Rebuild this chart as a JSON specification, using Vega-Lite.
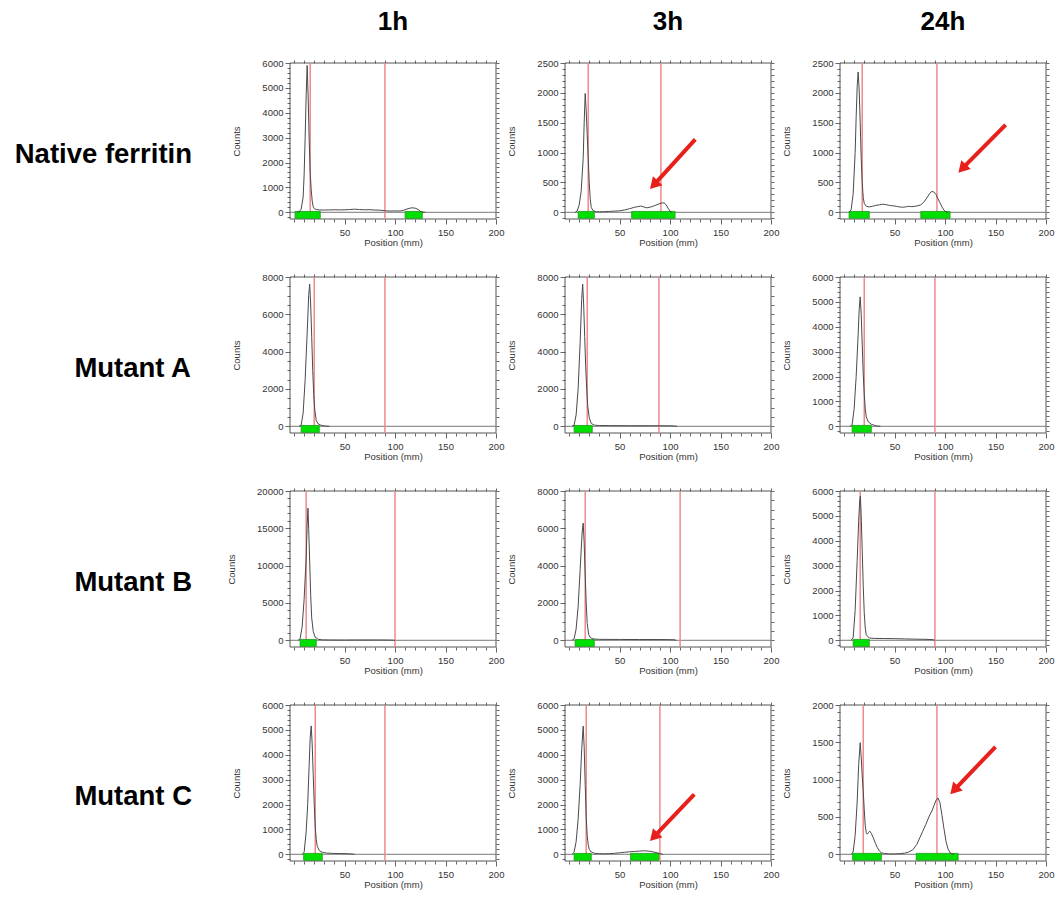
{
  "$schema": "https://vega.github.io/schema/vega-lite/v6.json",
  "background": "white",
  "padding": {"left": 14, "top": 9, "right": 5, "bottom": 5},
  "data": {"values": [
    {"sample":"Native ferritin","time":"1h","kind":"frame","x":-4,"x2":200,"y":-270,"y2":6000},
    {"sample":"Native ferritin","time":"1h","kind":"front","x":16},
    {"sample":"Native ferritin","time":"1h","kind":"front","x":90},
    {"sample":"Native ferritin","time":"1h","kind":"roi","x":1,"x2":26,"y":-245,"y2":35},
    {"sample":"Native ferritin","time":"1h","kind":"roi","x":110,"x2":127,"y":-245,"y2":35},
    {"sample":"Native ferritin","time":"1h","kind":"trace","x":3,"y":0},
    {"sample":"Native ferritin","time":"1h","kind":"trace","x":5,"y":20},
    {"sample":"Native ferritin","time":"1h","kind":"trace","x":7,"y":120},
    {"sample":"Native ferritin","time":"1h","kind":"trace","x":9,"y":600},
    {"sample":"Native ferritin","time":"1h","kind":"trace","x":10,"y":1500},
    {"sample":"Native ferritin","time":"1h","kind":"trace","x":11,"y":3000},
    {"sample":"Native ferritin","time":"1h","kind":"trace","x":12,"y":4700},
    {"sample":"Native ferritin","time":"1h","kind":"trace","x":13,"y":5900},
    {"sample":"Native ferritin","time":"1h","kind":"trace","x":14,"y":4600},
    {"sample":"Native ferritin","time":"1h","kind":"trace","x":15,"y":2900},
    {"sample":"Native ferritin","time":"1h","kind":"trace","x":16,"y":1600},
    {"sample":"Native ferritin","time":"1h","kind":"trace","x":17,"y":900},
    {"sample":"Native ferritin","time":"1h","kind":"trace","x":18,"y":450},
    {"sample":"Native ferritin","time":"1h","kind":"trace","x":19,"y":220},
    {"sample":"Native ferritin","time":"1h","kind":"trace","x":20,"y":150},
    {"sample":"Native ferritin","time":"1h","kind":"trace","x":22,"y":110},
    {"sample":"Native ferritin","time":"1h","kind":"trace","x":25,"y":95},
    {"sample":"Native ferritin","time":"1h","kind":"trace","x":30,"y":90},
    {"sample":"Native ferritin","time":"1h","kind":"trace","x":35,"y":95},
    {"sample":"Native ferritin","time":"1h","kind":"trace","x":40,"y":100},
    {"sample":"Native ferritin","time":"1h","kind":"trace","x":45,"y":95},
    {"sample":"Native ferritin","time":"1h","kind":"trace","x":50,"y":100},
    {"sample":"Native ferritin","time":"1h","kind":"trace","x":55,"y":110},
    {"sample":"Native ferritin","time":"1h","kind":"trace","x":60,"y":125},
    {"sample":"Native ferritin","time":"1h","kind":"trace","x":65,"y":110},
    {"sample":"Native ferritin","time":"1h","kind":"trace","x":70,"y":100},
    {"sample":"Native ferritin","time":"1h","kind":"trace","x":75,"y":105},
    {"sample":"Native ferritin","time":"1h","kind":"trace","x":80,"y":90},
    {"sample":"Native ferritin","time":"1h","kind":"trace","x":85,"y":85},
    {"sample":"Native ferritin","time":"1h","kind":"trace","x":90,"y":60},
    {"sample":"Native ferritin","time":"1h","kind":"trace","x":95,"y":50},
    {"sample":"Native ferritin","time":"1h","kind":"trace","x":100,"y":55},
    {"sample":"Native ferritin","time":"1h","kind":"trace","x":105,"y":50},
    {"sample":"Native ferritin","time":"1h","kind":"trace","x":108,"y":70},
    {"sample":"Native ferritin","time":"1h","kind":"trace","x":111,"y":120},
    {"sample":"Native ferritin","time":"1h","kind":"trace","x":114,"y":160},
    {"sample":"Native ferritin","time":"1h","kind":"trace","x":117,"y":180},
    {"sample":"Native ferritin","time":"1h","kind":"trace","x":120,"y":165},
    {"sample":"Native ferritin","time":"1h","kind":"trace","x":123,"y":110},
    {"sample":"Native ferritin","time":"1h","kind":"trace","x":125,"y":40},
    {"sample":"Native ferritin","time":"1h","kind":"trace","x":127,"y":5},
    {"sample":"Native ferritin","time":"1h","kind":"trace","x":130,"y":0},

    {"sample":"Native ferritin","time":"3h","kind":"frame","x":-4,"x2":200,"y":-112,"y2":2500},
    {"sample":"Native ferritin","time":"3h","kind":"front","x":19},
    {"sample":"Native ferritin","time":"3h","kind":"front","x":91},
    {"sample":"Native ferritin","time":"3h","kind":"roi","x":9,"x2":25,"y":-100,"y2":15},
    {"sample":"Native ferritin","time":"3h","kind":"roi","x":62,"x2":105,"y":-100,"y2":15},
    {"sample":"Native ferritin","time":"3h","kind":"arrow","x":125,"y":1220,"x2":84,"y2":460},
    {"sample":"Native ferritin","time":"3h","kind":"trace","x":6,"y":0},
    {"sample":"Native ferritin","time":"3h","kind":"trace","x":8,"y":20},
    {"sample":"Native ferritin","time":"3h","kind":"trace","x":10,"y":120},
    {"sample":"Native ferritin","time":"3h","kind":"trace","x":12,"y":350},
    {"sample":"Native ferritin","time":"3h","kind":"trace","x":14,"y":900},
    {"sample":"Native ferritin","time":"3h","kind":"trace","x":15,"y":1500},
    {"sample":"Native ferritin","time":"3h","kind":"trace","x":16,"y":1990},
    {"sample":"Native ferritin","time":"3h","kind":"trace","x":17,"y":1700},
    {"sample":"Native ferritin","time":"3h","kind":"trace","x":18,"y":1300},
    {"sample":"Native ferritin","time":"3h","kind":"trace","x":19,"y":900},
    {"sample":"Native ferritin","time":"3h","kind":"trace","x":20,"y":500},
    {"sample":"Native ferritin","time":"3h","kind":"trace","x":21,"y":220},
    {"sample":"Native ferritin","time":"3h","kind":"trace","x":22,"y":80},
    {"sample":"Native ferritin","time":"3h","kind":"trace","x":24,"y":25},
    {"sample":"Native ferritin","time":"3h","kind":"trace","x":27,"y":10},
    {"sample":"Native ferritin","time":"3h","kind":"trace","x":30,"y":8},
    {"sample":"Native ferritin","time":"3h","kind":"trace","x":35,"y":10},
    {"sample":"Native ferritin","time":"3h","kind":"trace","x":40,"y":15},
    {"sample":"Native ferritin","time":"3h","kind":"trace","x":45,"y":20},
    {"sample":"Native ferritin","time":"3h","kind":"trace","x":50,"y":25},
    {"sample":"Native ferritin","time":"3h","kind":"trace","x":55,"y":40},
    {"sample":"Native ferritin","time":"3h","kind":"trace","x":60,"y":60},
    {"sample":"Native ferritin","time":"3h","kind":"trace","x":65,"y":85},
    {"sample":"Native ferritin","time":"3h","kind":"trace","x":68,"y":95},
    {"sample":"Native ferritin","time":"3h","kind":"trace","x":71,"y":105},
    {"sample":"Native ferritin","time":"3h","kind":"trace","x":74,"y":90},
    {"sample":"Native ferritin","time":"3h","kind":"trace","x":77,"y":75},
    {"sample":"Native ferritin","time":"3h","kind":"trace","x":80,"y":85},
    {"sample":"Native ferritin","time":"3h","kind":"trace","x":83,"y":100},
    {"sample":"Native ferritin","time":"3h","kind":"trace","x":86,"y":120},
    {"sample":"Native ferritin","time":"3h","kind":"trace","x":89,"y":140},
    {"sample":"Native ferritin","time":"3h","kind":"trace","x":92,"y":155},
    {"sample":"Native ferritin","time":"3h","kind":"trace","x":94,"y":160},
    {"sample":"Native ferritin","time":"3h","kind":"trace","x":96,"y":130},
    {"sample":"Native ferritin","time":"3h","kind":"trace","x":98,"y":70},
    {"sample":"Native ferritin","time":"3h","kind":"trace","x":100,"y":20},
    {"sample":"Native ferritin","time":"3h","kind":"trace","x":102,"y":0},

    {"sample":"Native ferritin","time":"24h","kind":"frame","x":-4,"x2":200,"y":-112,"y2":2500},
    {"sample":"Native ferritin","time":"24h","kind":"front","x":18},
    {"sample":"Native ferritin","time":"24h","kind":"front","x":92},
    {"sample":"Native ferritin","time":"24h","kind":"roi","x":5,"x2":25,"y":-100,"y2":15},
    {"sample":"Native ferritin","time":"24h","kind":"roi","x":76,"x2":105,"y":-100,"y2":15},
    {"sample":"Native ferritin","time":"24h","kind":"arrow","x":160,"y":1465,"x2":117,"y2":730},
    {"sample":"Native ferritin","time":"24h","kind":"trace","x":5,"y":0},
    {"sample":"Native ferritin","time":"24h","kind":"trace","x":7,"y":40},
    {"sample":"Native ferritin","time":"24h","kind":"trace","x":9,"y":300},
    {"sample":"Native ferritin","time":"24h","kind":"trace","x":11,"y":1000},
    {"sample":"Native ferritin","time":"24h","kind":"trace","x":12,"y":1600},
    {"sample":"Native ferritin","time":"24h","kind":"trace","x":13,"y":2100},
    {"sample":"Native ferritin","time":"24h","kind":"trace","x":14,"y":2350},
    {"sample":"Native ferritin","time":"24h","kind":"trace","x":15,"y":2050},
    {"sample":"Native ferritin","time":"24h","kind":"trace","x":16,"y":1500},
    {"sample":"Native ferritin","time":"24h","kind":"trace","x":17,"y":900},
    {"sample":"Native ferritin","time":"24h","kind":"trace","x":18,"y":500},
    {"sample":"Native ferritin","time":"24h","kind":"trace","x":19,"y":250},
    {"sample":"Native ferritin","time":"24h","kind":"trace","x":20,"y":150},
    {"sample":"Native ferritin","time":"24h","kind":"trace","x":22,"y":100},
    {"sample":"Native ferritin","time":"24h","kind":"trace","x":25,"y":90},
    {"sample":"Native ferritin","time":"24h","kind":"trace","x":28,"y":100},
    {"sample":"Native ferritin","time":"24h","kind":"trace","x":31,"y":115},
    {"sample":"Native ferritin","time":"24h","kind":"trace","x":35,"y":125},
    {"sample":"Native ferritin","time":"24h","kind":"trace","x":38,"y":135},
    {"sample":"Native ferritin","time":"24h","kind":"trace","x":41,"y":130},
    {"sample":"Native ferritin","time":"24h","kind":"trace","x":45,"y":115},
    {"sample":"Native ferritin","time":"24h","kind":"trace","x":48,"y":110},
    {"sample":"Native ferritin","time":"24h","kind":"trace","x":52,"y":100},
    {"sample":"Native ferritin","time":"24h","kind":"trace","x":55,"y":90},
    {"sample":"Native ferritin","time":"24h","kind":"trace","x":58,"y":85},
    {"sample":"Native ferritin","time":"24h","kind":"trace","x":61,"y":90},
    {"sample":"Native ferritin","time":"24h","kind":"trace","x":64,"y":100},
    {"sample":"Native ferritin","time":"24h","kind":"trace","x":67,"y":95},
    {"sample":"Native ferritin","time":"24h","kind":"trace","x":70,"y":100},
    {"sample":"Native ferritin","time":"24h","kind":"trace","x":73,"y":110},
    {"sample":"Native ferritin","time":"24h","kind":"trace","x":76,"y":125},
    {"sample":"Native ferritin","time":"24h","kind":"trace","x":79,"y":170},
    {"sample":"Native ferritin","time":"24h","kind":"trace","x":82,"y":240},
    {"sample":"Native ferritin","time":"24h","kind":"trace","x":85,"y":320},
    {"sample":"Native ferritin","time":"24h","kind":"trace","x":87,"y":350},
    {"sample":"Native ferritin","time":"24h","kind":"trace","x":89,"y":340},
    {"sample":"Native ferritin","time":"24h","kind":"trace","x":91,"y":300},
    {"sample":"Native ferritin","time":"24h","kind":"trace","x":93,"y":230},
    {"sample":"Native ferritin","time":"24h","kind":"trace","x":95,"y":160},
    {"sample":"Native ferritin","time":"24h","kind":"trace","x":97,"y":90},
    {"sample":"Native ferritin","time":"24h","kind":"trace","x":99,"y":35},
    {"sample":"Native ferritin","time":"24h","kind":"trace","x":101,"y":5},
    {"sample":"Native ferritin","time":"24h","kind":"trace","x":103,"y":0},

    {"sample":"Mutant A","time":"1h","kind":"frame","x":-4,"x2":200,"y":-360,"y2":8000},
    {"sample":"Mutant A","time":"1h","kind":"front","x":20},
    {"sample":"Mutant A","time":"1h","kind":"front","x":90},
    {"sample":"Mutant A","time":"1h","kind":"roi","x":7,"x2":25,"y":-330,"y2":45},
    {"sample":"Mutant A","time":"1h","kind":"trace","x":5,"y":0},
    {"sample":"Mutant A","time":"1h","kind":"trace","x":7,"y":50},
    {"sample":"Mutant A","time":"1h","kind":"trace","x":9,"y":700},
    {"sample":"Mutant A","time":"1h","kind":"trace","x":11,"y":2500},
    {"sample":"Mutant A","time":"1h","kind":"trace","x":13,"y":5000},
    {"sample":"Mutant A","time":"1h","kind":"trace","x":14.5,"y":7000},
    {"sample":"Mutant A","time":"1h","kind":"trace","x":15.5,"y":7620},
    {"sample":"Mutant A","time":"1h","kind":"trace","x":16.5,"y":6500},
    {"sample":"Mutant A","time":"1h","kind":"trace","x":17.5,"y":4800},
    {"sample":"Mutant A","time":"1h","kind":"trace","x":18.5,"y":3000},
    {"sample":"Mutant A","time":"1h","kind":"trace","x":19.5,"y":1700},
    {"sample":"Mutant A","time":"1h","kind":"trace","x":20.5,"y":900},
    {"sample":"Mutant A","time":"1h","kind":"trace","x":22,"y":300},
    {"sample":"Mutant A","time":"1h","kind":"trace","x":24,"y":120},
    {"sample":"Mutant A","time":"1h","kind":"trace","x":27,"y":50},
    {"sample":"Mutant A","time":"1h","kind":"trace","x":30,"y":20},
    {"sample":"Mutant A","time":"1h","kind":"trace","x":35,"y":0},

    {"sample":"Mutant A","time":"3h","kind":"frame","x":-4,"x2":200,"y":-360,"y2":8000},
    {"sample":"Mutant A","time":"3h","kind":"front","x":18},
    {"sample":"Mutant A","time":"3h","kind":"front","x":89},
    {"sample":"Mutant A","time":"3h","kind":"roi","x":5,"x2":23,"y":-330,"y2":45},
    {"sample":"Mutant A","time":"3h","kind":"trace","x":3,"y":0},
    {"sample":"Mutant A","time":"3h","kind":"trace","x":5,"y":60},
    {"sample":"Mutant A","time":"3h","kind":"trace","x":7,"y":600},
    {"sample":"Mutant A","time":"3h","kind":"trace","x":9,"y":2000},
    {"sample":"Mutant A","time":"3h","kind":"trace","x":11,"y":4500},
    {"sample":"Mutant A","time":"3h","kind":"trace","x":12.5,"y":6800},
    {"sample":"Mutant A","time":"3h","kind":"trace","x":13.5,"y":7620},
    {"sample":"Mutant A","time":"3h","kind":"trace","x":14.5,"y":6500},
    {"sample":"Mutant A","time":"3h","kind":"trace","x":15.5,"y":4800},
    {"sample":"Mutant A","time":"3h","kind":"trace","x":16.5,"y":3200},
    {"sample":"Mutant A","time":"3h","kind":"trace","x":17.5,"y":2000},
    {"sample":"Mutant A","time":"3h","kind":"trace","x":18.5,"y":1100},
    {"sample":"Mutant A","time":"3h","kind":"trace","x":20,"y":450},
    {"sample":"Mutant A","time":"3h","kind":"trace","x":22,"y":150},
    {"sample":"Mutant A","time":"3h","kind":"trace","x":25,"y":60},
    {"sample":"Mutant A","time":"3h","kind":"trace","x":30,"y":40},
    {"sample":"Mutant A","time":"3h","kind":"trace","x":40,"y":35},
    {"sample":"Mutant A","time":"3h","kind":"trace","x":60,"y":30},
    {"sample":"Mutant A","time":"3h","kind":"trace","x":80,"y":30},
    {"sample":"Mutant A","time":"3h","kind":"trace","x":100,"y":25},
    {"sample":"Mutant A","time":"3h","kind":"trace","x":105,"y":10},
    {"sample":"Mutant A","time":"3h","kind":"trace","x":107,"y":0},

    {"sample":"Mutant A","time":"24h","kind":"frame","x":-4,"x2":200,"y":-270,"y2":6000},
    {"sample":"Mutant A","time":"24h","kind":"front","x":20},
    {"sample":"Mutant A","time":"24h","kind":"front","x":90},
    {"sample":"Mutant A","time":"24h","kind":"roi","x":8,"x2":27,"y":-245,"y2":35},
    {"sample":"Mutant A","time":"24h","kind":"trace","x":6,"y":0},
    {"sample":"Mutant A","time":"24h","kind":"trace","x":8,"y":60},
    {"sample":"Mutant A","time":"24h","kind":"trace","x":10,"y":700},
    {"sample":"Mutant A","time":"24h","kind":"trace","x":12,"y":2000},
    {"sample":"Mutant A","time":"24h","kind":"trace","x":14,"y":3700},
    {"sample":"Mutant A","time":"24h","kind":"trace","x":15,"y":4700},
    {"sample":"Mutant A","time":"24h","kind":"trace","x":16,"y":5200},
    {"sample":"Mutant A","time":"24h","kind":"trace","x":17,"y":4500},
    {"sample":"Mutant A","time":"24h","kind":"trace","x":18,"y":3300},
    {"sample":"Mutant A","time":"24h","kind":"trace","x":19,"y":2100},
    {"sample":"Mutant A","time":"24h","kind":"trace","x":20,"y":1300},
    {"sample":"Mutant A","time":"24h","kind":"trace","x":21,"y":700},
    {"sample":"Mutant A","time":"24h","kind":"trace","x":22,"y":380},
    {"sample":"Mutant A","time":"24h","kind":"trace","x":24,"y":180},
    {"sample":"Mutant A","time":"24h","kind":"trace","x":27,"y":80},
    {"sample":"Mutant A","time":"24h","kind":"trace","x":30,"y":40},
    {"sample":"Mutant A","time":"24h","kind":"trace","x":33,"y":10},
    {"sample":"Mutant A","time":"24h","kind":"trace","x":36,"y":0},

    {"sample":"Mutant B","time":"1h","kind":"frame","x":-4,"x2":200,"y":-900,"y2":20000},
    {"sample":"Mutant B","time":"1h","kind":"front","x":12},
    {"sample":"Mutant B","time":"1h","kind":"front","x":100},
    {"sample":"Mutant B","time":"1h","kind":"roi","x":6,"x2":22,"y":-820,"y2":115},
    {"sample":"Mutant B","time":"1h","kind":"trace","x":4,"y":0},
    {"sample":"Mutant B","time":"1h","kind":"trace","x":6,"y":200},
    {"sample":"Mutant B","time":"1h","kind":"trace","x":8,"y":1800},
    {"sample":"Mutant B","time":"1h","kind":"trace","x":10,"y":5500},
    {"sample":"Mutant B","time":"1h","kind":"trace","x":12,"y":11000},
    {"sample":"Mutant B","time":"1h","kind":"trace","x":13,"y":15500},
    {"sample":"Mutant B","time":"1h","kind":"trace","x":13.8,"y":17700},
    {"sample":"Mutant B","time":"1h","kind":"trace","x":14.5,"y":15000},
    {"sample":"Mutant B","time":"1h","kind":"trace","x":15.5,"y":10500},
    {"sample":"Mutant B","time":"1h","kind":"trace","x":16.5,"y":6000},
    {"sample":"Mutant B","time":"1h","kind":"trace","x":17.5,"y":3000},
    {"sample":"Mutant B","time":"1h","kind":"trace","x":19,"y":1200},
    {"sample":"Mutant B","time":"1h","kind":"trace","x":21,"y":400},
    {"sample":"Mutant B","time":"1h","kind":"trace","x":24,"y":120},
    {"sample":"Mutant B","time":"1h","kind":"trace","x":28,"y":60},
    {"sample":"Mutant B","time":"1h","kind":"trace","x":35,"y":40},
    {"sample":"Mutant B","time":"1h","kind":"trace","x":50,"y":30},
    {"sample":"Mutant B","time":"1h","kind":"trace","x":60,"y":40},
    {"sample":"Mutant B","time":"1h","kind":"trace","x":80,"y":40},
    {"sample":"Mutant B","time":"1h","kind":"trace","x":95,"y":30},
    {"sample":"Mutant B","time":"1h","kind":"trace","x":100,"y":0},

    {"sample":"Mutant B","time":"3h","kind":"frame","x":-4,"x2":200,"y":-360,"y2":8000},
    {"sample":"Mutant B","time":"3h","kind":"front","x":16},
    {"sample":"Mutant B","time":"3h","kind":"front","x":110},
    {"sample":"Mutant B","time":"3h","kind":"roi","x":6,"x2":25,"y":-330,"y2":45},
    {"sample":"Mutant B","time":"3h","kind":"trace","x":3,"y":0},
    {"sample":"Mutant B","time":"3h","kind":"trace","x":5,"y":80},
    {"sample":"Mutant B","time":"3h","kind":"trace","x":7,"y":600},
    {"sample":"Mutant B","time":"3h","kind":"trace","x":9,"y":1800},
    {"sample":"Mutant B","time":"3h","kind":"trace","x":11,"y":3800},
    {"sample":"Mutant B","time":"3h","kind":"trace","x":13,"y":5800},
    {"sample":"Mutant B","time":"3h","kind":"trace","x":14,"y":6280},
    {"sample":"Mutant B","time":"3h","kind":"trace","x":15,"y":5200},
    {"sample":"Mutant B","time":"3h","kind":"trace","x":16,"y":3500},
    {"sample":"Mutant B","time":"3h","kind":"trace","x":17,"y":2000},
    {"sample":"Mutant B","time":"3h","kind":"trace","x":18,"y":900},
    {"sample":"Mutant B","time":"3h","kind":"trace","x":19.5,"y":300},
    {"sample":"Mutant B","time":"3h","kind":"trace","x":21,"y":150},
    {"sample":"Mutant B","time":"3h","kind":"trace","x":24,"y":70},
    {"sample":"Mutant B","time":"3h","kind":"trace","x":30,"y":50},
    {"sample":"Mutant B","time":"3h","kind":"trace","x":50,"y":45},
    {"sample":"Mutant B","time":"3h","kind":"trace","x":70,"y":40},
    {"sample":"Mutant B","time":"3h","kind":"trace","x":90,"y":40},
    {"sample":"Mutant B","time":"3h","kind":"trace","x":104,"y":30},
    {"sample":"Mutant B","time":"3h","kind":"trace","x":106,"y":0},

    {"sample":"Mutant B","time":"24h","kind":"frame","x":-4,"x2":200,"y":-270,"y2":6000},
    {"sample":"Mutant B","time":"24h","kind":"front","x":16},
    {"sample":"Mutant B","time":"24h","kind":"front","x":90},
    {"sample":"Mutant B","time":"24h","kind":"roi","x":9,"x2":25,"y":-245,"y2":35},
    {"sample":"Mutant B","time":"24h","kind":"trace","x":7,"y":0},
    {"sample":"Mutant B","time":"24h","kind":"trace","x":9,"y":100},
    {"sample":"Mutant B","time":"24h","kind":"trace","x":11,"y":1200},
    {"sample":"Mutant B","time":"24h","kind":"trace","x":13,"y":3200},
    {"sample":"Mutant B","time":"24h","kind":"trace","x":14.5,"y":4800},
    {"sample":"Mutant B","time":"24h","kind":"trace","x":15.5,"y":5600},
    {"sample":"Mutant B","time":"24h","kind":"trace","x":16.2,"y":5800},
    {"sample":"Mutant B","time":"24h","kind":"trace","x":17,"y":5000},
    {"sample":"Mutant B","time":"24h","kind":"trace","x":18,"y":3600},
    {"sample":"Mutant B","time":"24h","kind":"trace","x":19,"y":2200},
    {"sample":"Mutant B","time":"24h","kind":"trace","x":20,"y":1100},
    {"sample":"Mutant B","time":"24h","kind":"trace","x":21,"y":500},
    {"sample":"Mutant B","time":"24h","kind":"trace","x":22,"y":220},
    {"sample":"Mutant B","time":"24h","kind":"trace","x":25,"y":90},
    {"sample":"Mutant B","time":"24h","kind":"trace","x":30,"y":75},
    {"sample":"Mutant B","time":"24h","kind":"trace","x":40,"y":70},
    {"sample":"Mutant B","time":"24h","kind":"trace","x":50,"y":65},
    {"sample":"Mutant B","time":"24h","kind":"trace","x":60,"y":55},
    {"sample":"Mutant B","time":"24h","kind":"trace","x":70,"y":45},
    {"sample":"Mutant B","time":"24h","kind":"trace","x":80,"y":40},
    {"sample":"Mutant B","time":"24h","kind":"trace","x":88,"y":25},
    {"sample":"Mutant B","time":"24h","kind":"trace","x":90,"y":0},

    {"sample":"Mutant C","time":"1h","kind":"frame","x":-4,"x2":200,"y":-270,"y2":6000},
    {"sample":"Mutant C","time":"1h","kind":"front","x":21},
    {"sample":"Mutant C","time":"1h","kind":"front","x":90},
    {"sample":"Mutant C","time":"1h","kind":"roi","x":9.5,"x2":28,"y":-245,"y2":35},
    {"sample":"Mutant C","time":"1h","kind":"trace","x":8,"y":0},
    {"sample":"Mutant C","time":"1h","kind":"trace","x":10,"y":80},
    {"sample":"Mutant C","time":"1h","kind":"trace","x":12,"y":900},
    {"sample":"Mutant C","time":"1h","kind":"trace","x":13.5,"y":2000},
    {"sample":"Mutant C","time":"1h","kind":"trace","x":15,"y":3600},
    {"sample":"Mutant C","time":"1h","kind":"trace","x":16,"y":4700},
    {"sample":"Mutant C","time":"1h","kind":"trace","x":17,"y":5160},
    {"sample":"Mutant C","time":"1h","kind":"trace","x":18,"y":4400},
    {"sample":"Mutant C","time":"1h","kind":"trace","x":19,"y":3200},
    {"sample":"Mutant C","time":"1h","kind":"trace","x":20,"y":2000},
    {"sample":"Mutant C","time":"1h","kind":"trace","x":21,"y":1100},
    {"sample":"Mutant C","time":"1h","kind":"trace","x":22,"y":600},
    {"sample":"Mutant C","time":"1h","kind":"trace","x":23,"y":320},
    {"sample":"Mutant C","time":"1h","kind":"trace","x":25,"y":150},
    {"sample":"Mutant C","time":"1h","kind":"trace","x":28,"y":80},
    {"sample":"Mutant C","time":"1h","kind":"trace","x":32,"y":50},
    {"sample":"Mutant C","time":"1h","kind":"trace","x":38,"y":35},
    {"sample":"Mutant C","time":"1h","kind":"trace","x":45,"y":30},
    {"sample":"Mutant C","time":"1h","kind":"trace","x":55,"y":20},
    {"sample":"Mutant C","time":"1h","kind":"trace","x":60,"y":0},

    {"sample":"Mutant C","time":"3h","kind":"frame","x":-4,"x2":200,"y":-270,"y2":6000},
    {"sample":"Mutant C","time":"3h","kind":"front","x":17},
    {"sample":"Mutant C","time":"3h","kind":"front","x":90},
    {"sample":"Mutant C","time":"3h","kind":"roi","x":5,"x2":22,"y":-245,"y2":35},
    {"sample":"Mutant C","time":"3h","kind":"roi","x":61,"x2":89,"y":-245,"y2":35},
    {"sample":"Mutant C","time":"3h","kind":"arrow","x":124,"y":2410,"x2":84,"y2":700},
    {"sample":"Mutant C","time":"3h","kind":"trace","x":3,"y":0},
    {"sample":"Mutant C","time":"3h","kind":"trace","x":5,"y":80},
    {"sample":"Mutant C","time":"3h","kind":"trace","x":7,"y":500},
    {"sample":"Mutant C","time":"3h","kind":"trace","x":9,"y":1400},
    {"sample":"Mutant C","time":"3h","kind":"trace","x":11,"y":2800},
    {"sample":"Mutant C","time":"3h","kind":"trace","x":12.5,"y":4200},
    {"sample":"Mutant C","time":"3h","kind":"trace","x":14,"y":5150},
    {"sample":"Mutant C","time":"3h","kind":"trace","x":15,"y":4300},
    {"sample":"Mutant C","time":"3h","kind":"trace","x":16,"y":2800},
    {"sample":"Mutant C","time":"3h","kind":"trace","x":17,"y":1500},
    {"sample":"Mutant C","time":"3h","kind":"trace","x":18,"y":750},
    {"sample":"Mutant C","time":"3h","kind":"trace","x":19,"y":380},
    {"sample":"Mutant C","time":"3h","kind":"trace","x":20,"y":200},
    {"sample":"Mutant C","time":"3h","kind":"trace","x":22,"y":90},
    {"sample":"Mutant C","time":"3h","kind":"trace","x":25,"y":40},
    {"sample":"Mutant C","time":"3h","kind":"trace","x":30,"y":25},
    {"sample":"Mutant C","time":"3h","kind":"trace","x":35,"y":20},
    {"sample":"Mutant C","time":"3h","kind":"trace","x":40,"y":25},
    {"sample":"Mutant C","time":"3h","kind":"trace","x":45,"y":40},
    {"sample":"Mutant C","time":"3h","kind":"trace","x":50,"y":60},
    {"sample":"Mutant C","time":"3h","kind":"trace","x":55,"y":80},
    {"sample":"Mutant C","time":"3h","kind":"trace","x":60,"y":100},
    {"sample":"Mutant C","time":"3h","kind":"trace","x":65,"y":115},
    {"sample":"Mutant C","time":"3h","kind":"trace","x":70,"y":130},
    {"sample":"Mutant C","time":"3h","kind":"trace","x":75,"y":140},
    {"sample":"Mutant C","time":"3h","kind":"trace","x":80,"y":120},
    {"sample":"Mutant C","time":"3h","kind":"trace","x":84,"y":90},
    {"sample":"Mutant C","time":"3h","kind":"trace","x":88,"y":50},
    {"sample":"Mutant C","time":"3h","kind":"trace","x":91,"y":15},
    {"sample":"Mutant C","time":"3h","kind":"trace","x":93,"y":0},

    {"sample":"Mutant C","time":"24h","kind":"frame","x":-4,"x2":200,"y":-90,"y2":2000},
    {"sample":"Mutant C","time":"24h","kind":"front","x":19},
    {"sample":"Mutant C","time":"24h","kind":"front","x":92},
    {"sample":"Mutant C","time":"24h","kind":"roi","x":8.5,"x2":37,"y":-80,"y2":12},
    {"sample":"Mutant C","time":"24h","kind":"roi","x":71.5,"x2":113,"y":-80,"y2":12},
    {"sample":"Mutant C","time":"24h","kind":"arrow","x":150,"y":1440,"x2":109,"y2":860},
    {"sample":"Mutant C","time":"24h","kind":"trace","x":7,"y":0},
    {"sample":"Mutant C","time":"24h","kind":"trace","x":9,"y":30},
    {"sample":"Mutant C","time":"24h","kind":"trace","x":11,"y":250},
    {"sample":"Mutant C","time":"24h","kind":"trace","x":13,"y":700},
    {"sample":"Mutant C","time":"24h","kind":"trace","x":14.5,"y":1200},
    {"sample":"Mutant C","time":"24h","kind":"trace","x":16,"y":1495},
    {"sample":"Mutant C","time":"24h","kind":"trace","x":17,"y":1300},
    {"sample":"Mutant C","time":"24h","kind":"trace","x":18,"y":1050},
    {"sample":"Mutant C","time":"24h","kind":"trace","x":19,"y":850},
    {"sample":"Mutant C","time":"24h","kind":"trace","x":20,"y":600},
    {"sample":"Mutant C","time":"24h","kind":"trace","x":21,"y":380},
    {"sample":"Mutant C","time":"24h","kind":"trace","x":22,"y":290},
    {"sample":"Mutant C","time":"24h","kind":"trace","x":23,"y":270},
    {"sample":"Mutant C","time":"24h","kind":"trace","x":24,"y":290},
    {"sample":"Mutant C","time":"24h","kind":"trace","x":25.5,"y":310},
    {"sample":"Mutant C","time":"24h","kind":"trace","x":27,"y":280},
    {"sample":"Mutant C","time":"24h","kind":"trace","x":29,"y":220},
    {"sample":"Mutant C","time":"24h","kind":"trace","x":31,"y":150},
    {"sample":"Mutant C","time":"24h","kind":"trace","x":33,"y":90},
    {"sample":"Mutant C","time":"24h","kind":"trace","x":35,"y":45},
    {"sample":"Mutant C","time":"24h","kind":"trace","x":37,"y":20},
    {"sample":"Mutant C","time":"24h","kind":"trace","x":40,"y":10},
    {"sample":"Mutant C","time":"24h","kind":"trace","x":45,"y":5},
    {"sample":"Mutant C","time":"24h","kind":"trace","x":50,"y":5},
    {"sample":"Mutant C","time":"24h","kind":"trace","x":55,"y":8},
    {"sample":"Mutant C","time":"24h","kind":"trace","x":60,"y":15},
    {"sample":"Mutant C","time":"24h","kind":"trace","x":64,"y":30},
    {"sample":"Mutant C","time":"24h","kind":"trace","x":68,"y":60},
    {"sample":"Mutant C","time":"24h","kind":"trace","x":72,"y":130},
    {"sample":"Mutant C","time":"24h","kind":"trace","x":75,"y":220},
    {"sample":"Mutant C","time":"24h","kind":"trace","x":78,"y":310},
    {"sample":"Mutant C","time":"24h","kind":"trace","x":81,"y":400},
    {"sample":"Mutant C","time":"24h","kind":"trace","x":84,"y":500},
    {"sample":"Mutant C","time":"24h","kind":"trace","x":87,"y":580},
    {"sample":"Mutant C","time":"24h","kind":"trace","x":89,"y":650},
    {"sample":"Mutant C","time":"24h","kind":"trace","x":91,"y":720},
    {"sample":"Mutant C","time":"24h","kind":"trace","x":93,"y":755},
    {"sample":"Mutant C","time":"24h","kind":"trace","x":95,"y":690},
    {"sample":"Mutant C","time":"24h","kind":"trace","x":97,"y":520},
    {"sample":"Mutant C","time":"24h","kind":"trace","x":99,"y":340},
    {"sample":"Mutant C","time":"24h","kind":"trace","x":101,"y":170},
    {"sample":"Mutant C","time":"24h","kind":"trace","x":103,"y":70},
    {"sample":"Mutant C","time":"24h","kind":"trace","x":105,"y":20},
    {"sample":"Mutant C","time":"24h","kind":"trace","x":107,"y":5},
    {"sample":"Mutant C","time":"24h","kind":"trace","x":109,"y":0}
  ]},
  "facet": {
    "row": {"field": "sample", "type": "nominal", "sort": ["Native ferritin", "Mutant A", "Mutant B", "Mutant C"], "title": null,
      "header": {"labelAngle": 0, "labelAlign": "left", "labelBaseline": "top", "labelFontSize": 27.5, "labelFontWeight": "bold", "labelFont": "Liberation Sans", "labelColor": "black", "labelPadding": 98}},
    "column": {"field": "time", "type": "nominal", "sort": ["1h", "3h", "24h"], "title": null,
      "header": {"labelFontSize": 26, "labelFontWeight": "bold", "labelFont": "Liberation Sans", "labelColor": "black", "labelPadding": 28}}
  },
  "spacing": {"row": 58, "column": 69},
  "bounds": "flush",
  "resolve": {"scale": {"y": "independent"}, "axis": {"x": "independent", "y": "independent"}},
  "spec": {
    "width": 206,
    "height": 156,
    "resolve": {"axis": {"x": "independent", "y": "independent"}},
    "layer": [
      {
        "transform": [{"filter": "datum.kind === 'frame'"}],
        "mark": {"type": "rect", "fillOpacity": 0, "stroke": "#555555", "strokeWidth": 1},
        "encoding": {
          "x": {"field": "x", "type": "quantitative", "scale": {"domain": [-4, 200], "nice": false, "zero": false},
            "axis": {"orient": "bottom", "values": [50, 100, 150, 200], "tickSize": 5, "title": "Position (mm)", "labelPadding": 3, "titlePadding": 1}},
          "x2": {"field": "x2"},
          "y": {"field": "y", "type": "quantitative", "scale": {"nice": false, "zero": false},
            "axis": {"orient": "left", "tickCount": 5, "format": "d", "tickSize": 5, "title": "Counts", "titlePadding": 20}},
          "y2": {"field": "y2"}
        }
      },
      {
        "transform": [{"filter": "datum.kind === 'frame'"}],
        "mark": {"type": "point", "opacity": 0},
        "encoding": {
          "x": {"field": "x", "type": "quantitative", "axis": {"orient": "bottom", "tickCount": 20, "labels": false, "title": null, "tickSize": 3}},
          "y": {"field": "y", "type": "quantitative", "axis": {"orient": "left", "tickCount": 25, "labels": false, "title": null, "tickSize": 3}}
        }
      },
      {
        "transform": [{"filter": "datum.kind === 'frame'"}],
        "mark": {"type": "point", "opacity": 0},
        "encoding": {
          "x": {"field": "x", "type": "quantitative", "axis": {"orient": "top", "tickCount": 20, "labels": false, "title": null, "tickSize": 3}},
          "y": {"field": "y", "type": "quantitative", "axis": {"orient": "right", "tickCount": 25, "labels": false, "title": null, "tickSize": 3}}
        }
      },
      {
        "transform": [{"filter": "datum.kind === 'frame'"}],
        "mark": {"type": "rule", "color": "#777777", "strokeWidth": 1},
        "encoding": {"y": {"datum": 0, "type": "quantitative", "axis": null}}
      },
      {
        "transform": [{"filter": "datum.kind === 'front'"}],
        "mark": {"type": "rule", "color": "#ee8a8a", "strokeWidth": 1.5},
        "encoding": {"x": {"field": "x", "type": "quantitative", "axis": null}}
      },
      {
        "transform": [{"filter": "datum.kind === 'roi'"}],
        "mark": {"type": "rect", "fill": "#00e000", "stroke": "#229922", "strokeWidth": 0.8},
        "encoding": {
          "x": {"field": "x", "type": "quantitative", "axis": null},
          "x2": {"field": "x2"},
          "y": {"field": "y", "type": "quantitative", "axis": null},
          "y2": {"field": "y2"}
        }
      },
      {
        "transform": [{"filter": "datum.kind === 'trace'"}],
        "mark": {"type": "line", "color": "#4a4a4a", "strokeWidth": 1},
        "encoding": {
          "x": {"field": "x", "type": "quantitative", "axis": null},
          "y": {"field": "y", "type": "quantitative", "axis": null}
        }
      },
      {
        "transform": [{"filter": "datum.kind === 'arrow'"}],
        "mark": {"type": "rule", "color": "#e8201c", "strokeWidth": 4},
        "encoding": {
          "x": {"field": "x", "type": "quantitative", "axis": null},
          "x2": {"field": "x2"},
          "y": {"field": "y", "type": "quantitative", "axis": null},
          "y2": {"field": "y2"}
        }
      },
      {
        "transform": [{"filter": "datum.kind === 'arrow'"}],
        "mark": {"type": "point", "shape": "triangle-up", "angle": 223, "filled": true, "color": "#e8201c", "opacity": 1, "size": 170},
        "encoding": {
          "x": {"field": "x2", "type": "quantitative", "axis": null},
          "y": {"field": "y2", "type": "quantitative", "axis": null}
        }
      }
    ]
  },
  "config": {
    "view": {"stroke": null},
    "axis": {"grid": false, "domain": false, "labelFont": "Liberation Sans", "labelFontSize": 9.5, "labelColor": "#333333", "tickColor": "#666666", "titleFont": "Liberation Sans", "titleFontSize": 9.5, "titleFontWeight": "normal", "titleColor": "#333333", "labelFlush": false, "labelOverlap": false}
  }
}
